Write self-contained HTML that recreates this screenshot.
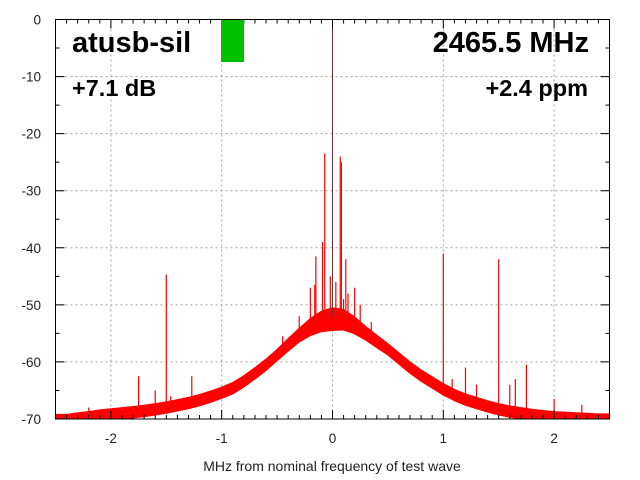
<!DOCTYPE html>
<html><head><meta charset="utf-8"><style>
body{margin:0;background:#fff}
svg{display:block;font-family:"Liberation Sans",sans-serif}
</style></head><body>
<svg id="chart" width="640" height="480" viewBox="0 0 640 480" xmlns="http://www.w3.org/2000/svg">
<rect width="640" height="480" fill="#fff"/>
<g id="grid"></g>
<g id="series"></g>
<g id="axes"></g>
<rect x="221" y="20" width="23" height="42" fill="#00c000"/>
<text x="72" y="52" font-size="29" font-weight="bold">atusb-sil</text>
<text x="589" y="52" font-size="29" font-weight="bold" text-anchor="end">2465.5 MHz</text>
<text x="72" y="96" font-size="23.5" font-weight="bold">+7.1 dB</text>
<text x="588" y="96" font-size="23.5" font-weight="bold" text-anchor="end">+2.4 ppm</text>
<text x="332" y="471" font-size="14" text-anchor="middle" fill="#222">MHz from nominal frequency of test wave</text>
</svg>
<script>
const xTicks=[-2,-1,0,1,2];
const yTicks=[0,-10,-20,-30,-40,-50,-60,-70];
const envStart=-2.5, envStep=0.1;
const envCenter=[-70,-70,-69.8,-69.6,-69.4,-69.2,-69,-68.8,-68.6,-68.3,-68,-67.6,-67.2,-66.7,-66.1,-65.4,-64.6,-63.4,-62,-60.5,-58.8,-57,-55.3,-53.9,-52.9,-52.5,-52.6,-53.6,-55,-56.4,-57.8,-59.4,-61,-62.4,-63.6,-64.8,-65.8,-66.6,-67.2,-67.8,-68.3,-68.7,-69,-69.3,-69.5,-69.6,-69.7,-69.8,-69.8,-69.9,-69.9];
const envSpread=[0.8,0.8,0.9,0.9,1,1,1,1,1,1,1,1,1,1,1,1,1,1,1,1,1,1.1,1.2,1.5,1.8,2,1.8,1.5,1.2,1.1,1,1,1,1,1,1,1,1,1,1,1,1,1,1,1,0.9,0.9,0.9,0.8,0.8,0.8];
const spikeFreq=[-2.2,-1.75,-1.5,-1.46,-1.27,-1.6,-0.45,-0.3,-0.2,-0.16,-0.15,-0.09,-0.07,-0.05,-0.02,0.03,0.07,0.08,0.1,0.12,0.14,0.2,0.25,0.35,1.0,1.08,1.2,1.3,1.5,1.6,1.65,1.75,2.0,2.25];
const spikeDb=[-68,-62.5,-44.7,-66,-62.5,-65,-55.5,-52,-47,-46.5,-41.5,-39,-23.5,-52,-45,-46,-24,-25,-49,-42,-48,-47,-50,-53,-41,-63,-61,-64,-42,-64,-63,-60.5,-66.5,-67.5];
const NS='http://www.w3.org/2000/svg';
const L=55.5,R=609.5,T=19.5,B=419;
function xs(v){return L+(v+2.5)/5*(R-L);}
function ys(v){return T+(-v)/70*(B-T);}
function mk(tag,attrs,parent){const e=document.createElementNS(NS,tag);for(const k in attrs)e.setAttribute(k,attrs[k]);parent.appendChild(e);return e;}
const grid=document.getElementById('grid'),axes=document.getElementById('axes'),series=document.getElementById('series');
xTicks.forEach(v=>{
  const l=mk('line',{x1:xs(v),x2:xs(v),y1:T,y2:B,stroke:'#a0a0a0','stroke-dasharray':'2,3'},grid);
  
  
  const t=mk('text',{x:xs(v),y:443,'font-size':13.5,'text-anchor':'middle',fill:'#222'},axes);
  t.textContent=v;
  
  
});
yTicks.forEach(v=>{
  if(v!==0&&v!==-70){
  const l=mk('line',{x1:L,x2:R,y1:ys(v),y2:ys(v),stroke:'#a0a0a0','stroke-dasharray':'2,3'},grid);
  
  }
  const t=mk('text',{x:41,y:ys(v)+5,'font-size':13.5,'text-anchor':'end',fill:'#222'},axes);
  t.textContent=v;
  
  
});
let up=[],lo=[];
envCenter.forEach((c,i)=>{const f=envStart+i*envStep;up.push(xs(f)+','+ys(Math.min(0,c+envSpread[i])));lo.unshift(xs(f)+','+ys(Math.max(-70,c-envSpread[i])));});
const band=mk('polygon',{points:up.concat(lo).join(' '),fill:'#ff0000',stroke:'#ff0000','stroke-width':1,'stroke-linejoin':'round'},series);


function baseAt(f){const p=(f-envStart)/envStep;const i=Math.max(0,Math.min(envCenter.length-2,Math.floor(p)));const t=p-i;return envCenter[i]*(1-t)+envCenter[i+1]*t;}
spikeFreq.forEach((f,i)=>{
  const s=mk('line',{x1:xs(f),x2:xs(f),y1:ys(baseAt(f)),y2:ys(spikeDb[i]),stroke:'#ff0000','stroke-width':1.2},series);
  
  
});
const cl=mk('line',{x1:xs(0),x2:xs(0),y1:T,y2:ys(-52),stroke:'#703030','stroke-width':1},series);


const fr=mk('rect',{x:L,y:T,width:R-L,height:B-T,fill:'none',stroke:'#000','stroke-width':1},axes);


let d='';
for(let k=-25;k<=25;k++){const x=xs(k/10);const len=(k%10===0)?9:4;d+=`M${x},${B}v${-len}M${x},${T}v${len}`;}
for(let k=0;k<=14;k++){const y=ys(-k*5);const len=(k%2===0)?9:4;d+=`M${L},${y}h${len}M${R},${y}h${-len}`;}
const tk=mk('path',{d:d,stroke:'#000','stroke-width':1,fill:'none'},axes);


</script>
</body></html>
